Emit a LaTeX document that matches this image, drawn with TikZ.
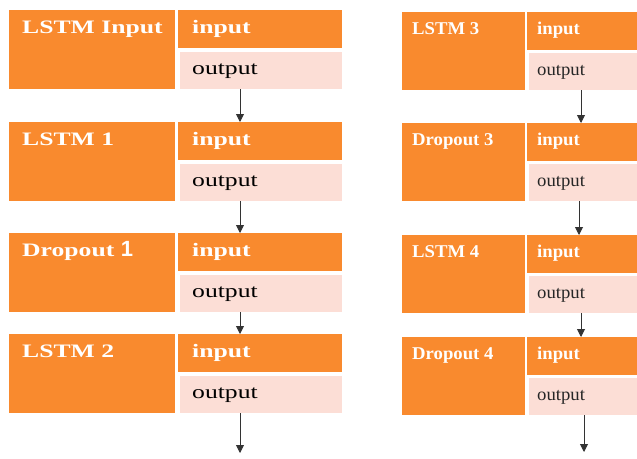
\documentclass[tikz,border=0pt]{standalone}
\usepackage{fontspec}
\setmainfont{Liberation Serif}
\newfontfamily\lfont[FakeStretch=1.35]{Liberation Serif}
\newfontfamily\rfont[FakeStretch=1.04]{Liberation Serif}
\newfontfamily\onefont{Liberation Sans}
\usetikzlibrary{arrows.meta}
\definecolor{org}{HTML}{F98A2E}
\definecolor{pnk}{HTML}{FCDED6}
\tikzset{
  box/.style={fill=org, draw=none, inner sep=0pt, anchor=north west},
  obox/.style={fill=pnk, draw=none, inner sep=0pt, anchor=north west},
  ltxt/.style={anchor=base west, inner sep=0pt, text=white, font=\lfont\fontsize{19}{21}\selectfont\bfseries},
  lotxt/.style={anchor=base west, inner sep=0pt, text=black, font=\lfont\fontsize{19}{21}\selectfont},
  rtxt/.style={anchor=base west, inner sep=0pt, text=white, font=\rfont\fontsize{18}{20}\selectfont\bfseries},
  rotxt/.style={anchor=base west, inner sep=0pt, text=black!85, font=\rfont\fontsize{18}{20}\selectfont},
  arr/.style={draw=black!80, line width=0.9pt, -{Triangle[width=8pt,length=8pt]}}
}
\newcommand{\leftrow}[3]{%
  \node[box, minimum width=166pt, minimum height=79pt] (#1lab) at (9,#2) {};
  \node[box, minimum width=164pt, minimum height=38pt] (#1in) at (178,#2) {};
  \node[obox, minimum width=162pt, minimum height=37pt] (#1out) at (180,#2+42) {};
  \node[ltxt] (#1labt) at (22,#2+23) {#3};
  \node[ltxt] (#1int) at (192,#2+23) {input};
  \node[lotxt] (#1outt) at (192,#2+64) {output};
}
\newcommand{\rightrow}[3]{%
  \node[box, minimum width=123pt, minimum height=78pt] (#1lab) at (402,#2) {};
  \node[box, minimum width=110pt, minimum height=38pt] (#1in) at (527,#2) {};
  \node[obox, minimum width=108pt, minimum height=37pt] (#1out) at (529,#2+41) {};
  \node[rtxt] (#1labt) at (412,#2+22) {#3};
  \node[rtxt] (#1int) at (537,#2+22) {input};
  \node[rotxt] (#1outt) at (537,#2+63) {output};
}
\begin{document}
\begin{tikzpicture}[x=1pt,y=-1pt]
\useasboundingbox[fill=white] (0,0) rectangle (637,458);
\leftrow{LA}{10}{LSTM Input}
\leftrow{LB}{122}{LSTM 1}
\leftrow{LC}{233}{Dropout {\onefont\fontsize{22}{24}\selectfont 1}}
\leftrow{LD}{334}{LSTM 2}
\rightrow{RA}{12}{LSTM 3}
\rightrow{RB}{123}{Dropout 3}
\rightrow{RC}{235}{LSTM 4}
\rightrow{RD}{337}{Dropout 4}
% arrows left
\path ([xshift=60pt]LAout.south west) coordinate (la1);
\path ([xshift=60pt]LBout.south west) coordinate (la2);
\path ([xshift=60pt]LCout.south west) coordinate (la3);
\path ([xshift=60pt]LDout.south west) coordinate (la4);
\coordinate (lend) at (240,453);
\draw[arr] (la1) -- (la1 |- LBin.north);
\draw[arr] (la2) -- (la2 |- LCin.north);
\draw[arr] (la3) -- (la3 |- LDin.north);
\draw[arr] (la4) -- (lend);
% arrows right
\path ([xshift=52pt]RAout.south west) coordinate (ra1);
\path ([xshift=50pt]RBout.south west) coordinate (ra2);
\path ([xshift=52pt]RCout.south west) coordinate (ra3);
\path ([xshift=55pt]RDout.south west) coordinate (ra4);
\coordinate (rend) at (584,452);
\draw[arr] (ra1) -- (ra1 |- RBin.north);
\draw[arr] (ra2) -- (ra2 |- RCin.north);
\draw[arr] (ra3) -- (ra3 |- RDin.north);
\draw[arr] (ra4) -- (rend);
\end{tikzpicture}
\end{document}
